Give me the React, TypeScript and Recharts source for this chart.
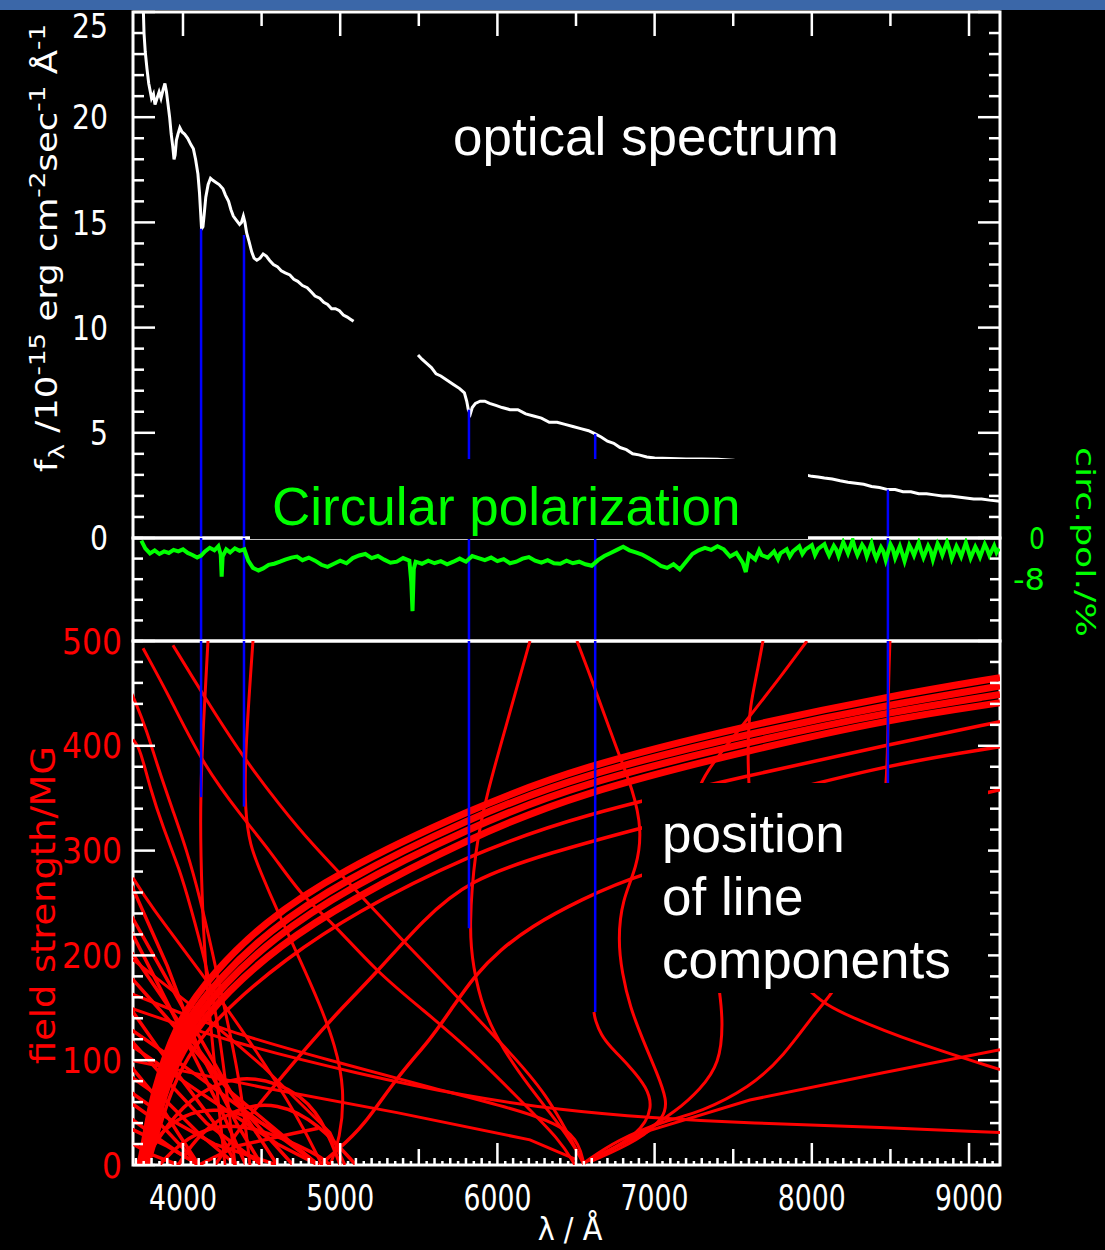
import React from 'react';
import { LineChart, Line, XAxis, YAxis, ReferenceLine, ReferenceArea } from 'recharts';

const W = 1105;
const LAMBDA_MIN = 3682;
const LAMBDA_MAX = 9197;

const WHITE = '#ffffff';
const RED = '#ff0000';
const GREEN = '#00ff00';
const BLUE = '#0000ff';

const TICK_FONT = "'Liberation Sans Narrow', 'DejaVu Sans Condensed', 'Liberation Sans', sans-serif";
const TEXT_FONT = "'Liberation Sans', Arial, sans-serif";

// labelled ticks
const lambdaLabels = [4000, 5000, 6000, 7000, 8000, 9000];
const fluxLabels = [0, 5, 10, 15, 20, 25];
const fieldLabels = [0, 100, 200, 300, 400, 500];
const polLabels = [0, -8];

const steps = (from: number, to: number, step: number) => {
  const out: number[] = [];
  for (let v = from; v <= to + 1e-9; v += step) out.push(Math.round(v * 1000) / 1000);
  return out;
};
const lambdaTicksTop = steps(4000, 9000, 500);
const lambdaTicksBottom = steps(3700, 9150, 50);
const fluxTicks = steps(0, 25, 1);
const fieldTicks = steps(0, 500, 20);
const polTicks = steps(-20, 0, 4);

// f_lambda in 1e-15 erg/cm2/s/A; null = gap between the blue and red arm
const spectrum: [number, number | null][] = [
  [3735, 27.5], [3745, 25.8], [3752, 24.0], [3760, 23.1], [3771, 22.3], [3782, 21.6], [3790, 21.3],
  [3800, 20.9], [3812, 21.1], [3822, 20.6], [3835, 20.9], [3848, 21.2], [3860, 20.9], [3873, 21.3],
  [3885, 21.6], [3895, 21.2], [3905, 20.6], [3915, 20.0], [3925, 19.2], [3935, 18.6], [3943, 18.0],
  [3950, 18.2], [3958, 18.9], [3968, 19.2], [3980, 19.5], [3994, 19.3], [4010, 19.2], [4030, 19.0],
  [4050, 18.7], [4066, 18.5], [4080, 18.0], [4095, 17.3], [4105, 16.4], [4112, 15.5], [4118, 14.7],
  [4127, 14.8], [4135, 15.4], [4145, 16.2], [4160, 16.8], [4175, 17.1], [4190, 17.0], [4210, 16.9],
  [4230, 16.8], [4254, 16.6], [4270, 16.3], [4290, 16.0], [4305, 15.6], [4320, 15.3], [4340, 15.1],
  [4360, 14.9], [4372, 15.0], [4384, 15.3], [4394, 15.0], [4405, 14.5], [4420, 14.1], [4437, 13.6],
  [4452, 13.3], [4470, 13.2], [4490, 13.3], [4510, 13.5], [4530, 13.4], [4550, 13.2], [4575, 13.0],
  [4600, 12.9], [4625, 12.7], [4650, 12.6], [4680, 12.5], [4705, 12.3], [4730, 12.2], [4760, 12.0],
  [4790, 11.9], [4815, 11.7], [4840, 11.5], [4870, 11.4], [4895, 11.2], [4920, 11.1], [4945, 10.9],
  [4970, 10.9], [4995, 10.8], [5020, 10.6], [5045, 10.5], [5065, 10.4], [5085, 10.3],
  [5300, null],
  [5495, 8.7], [5520, 8.5], [5550, 8.3], [5580, 8.1], [5610, 7.8], [5640, 7.7], [5680, 7.5],
  [5720, 7.3], [5760, 7.1], [5790, 6.9], [5805, 6.5], [5815, 6.1], [5828, 5.9], [5840, 6.2],
  [5860, 6.4], [5890, 6.5], [5920, 6.5], [5950, 6.4], [5990, 6.3], [6030, 6.2], [6080, 6.1],
  [6130, 6.1], [6180, 5.9], [6230, 5.8], [6280, 5.7], [6330, 5.5], [6380, 5.5], [6430, 5.4],
  [6480, 5.3], [6530, 5.2], [6580, 5.1], [6622, 4.95], [6660, 4.8], [6700, 4.6], [6740, 4.5],
  [6780, 4.3], [6820, 4.2], [6860, 4.0], [6900, 3.95], [6950, 3.85], [7000, 3.8], [7100, 3.78],
  [7200, 3.76], [7300, 3.75], [7400, 3.74], [7500, 3.7], [7600, 3.6], [7700, 3.45], [7800, 3.3],
  [7900, 3.1], [7960, 3.0], [8000, 2.93], [8040, 2.9], [8080, 2.85], [8130, 2.8], [8180, 2.72],
  [8230, 2.65], [8280, 2.6], [8330, 2.55], [8380, 2.45], [8430, 2.4], [8484, 2.3], [8530, 2.3],
  [8580, 2.2], [8630, 2.2], [8680, 2.1], [8730, 2.1], [8780, 2.05], [8830, 2.0], [8880, 2.0],
  [8930, 1.95], [8980, 1.9], [9030, 1.85], [9080, 1.85], [9130, 1.8], [9197, 1.75],
];

// circular polarization in %
const circPol: [number, number][] = [
  [3735, -0.5], [3760, -2.0], [3790, -3.0], [3820, -2.4], [3850, -3.1], [3880, -2.6], [3910, -2.9],
  [3940, -2.3], [3970, -2.6], [4000, -2.2], [4030, -2.9], [4060, -3.3], [4090, -3.8], [4115, -3.4],
  [4140, -2.6], [4170, -1.9], [4200, -2.4], [4225, -1.6], [4240, -3.2], [4246, -7.5], [4252, -3.6],
  [4275, -2.2], [4300, -2.8], [4330, -2.0], [4360, -2.5], [4390, -2.2], [4415, -4.4], [4445, -5.8],
  [4480, -6.3], [4510, -5.9], [4545, -5.2], [4580, -5.0], [4617, -4.6], [4650, -4.2], [4690, -3.8],
  [4725, -3.6], [4760, -4.3], [4800, -3.8], [4840, -4.4], [4880, -5.2], [4920, -5.6], [4960, -5.0],
  [5000, -4.4], [5040, -4.9], [5080, -3.9], [5120, -3.4], [5160, -3.1], [5200, -3.9], [5240, -3.5],
  [5280, -4.2], [5320, -4.8], [5360, -4.6], [5400, -3.9], [5440, -4.4], [5452, -8.5], [5460, -14.2],
  [5468, -6.0], [5480, -4.6], [5520, -5.0], [5560, -4.4], [5600, -4.9], [5640, -4.5], [5680, -5.1],
  [5720, -4.6], [5760, -4.0], [5800, -4.6], [5840, -3.5], [5880, -3.9], [5920, -4.3], [5960, -3.8],
  [6000, -4.5], [6040, -4.1], [6080, -4.9], [6120, -4.6], [6160, -4.0], [6200, -3.7], [6240, -4.4],
  [6280, -4.8], [6320, -4.3], [6360, -4.9], [6400, -5.0], [6440, -4.4], [6480, -4.9], [6520, -4.6],
  [6560, -5.1], [6600, -5.4], [6640, -4.3], [6680, -3.5], [6720, -2.9], [6760, -2.3], [6800, -1.7],
  [6840, -2.4], [6880, -2.8], [6920, -3.2], [6960, -3.9], [7000, -4.6], [7040, -5.4], [7080, -5.8],
  [7120, -5.1], [7160, -6.1], [7200, -4.6], [7240, -3.1], [7280, -2.4], [7320, -1.9], [7360, -2.3],
  [7400, -1.6], [7440, -2.2], [7480, -3.6], [7520, -2.9], [7560, -4.8], [7580, -6.6], [7600, -3.2],
  [7640, -4.2], [7665, -2.4], [7680, -3.3], [7720, -3.8], [7760, -2.6], [7785, -4.1], [7800, -3.0],
  [7840, -2.2], [7860, -3.6], [7880, -2.6], [7920, -1.6], [7940, -3.1], [7960, -2.2], [8000, -1.4],
  [8020, -3.3], [8040, -2.1], [8080, -1.2], [8095, -2.4], [8110, -3.4], [8140, -1.5], [8155, -2.2],
  [8170, -3.5], [8200, -0.8], [8215, -1.9], [8230, -3.0], [8260, -0.4], [8275, -2.1], [8290, -3.3],
  [8320, -1.3], [8335, -2.0], [8350, -3.6], [8380, -1.0], [8395, -2.8], [8410, -4.0], [8440, -1.8],
  [8455, -2.6], [8470, -4.3], [8500, -1.2], [8515, -2.1], [8530, -3.9], [8560, -1.6], [8575, -3.0],
  [8590, -4.5], [8620, -1.4], [8635, -2.3], [8650, -3.4], [8680, -0.9], [8695, -2.5], [8710, -3.8],
  [8740, -1.5], [8755, -2.4], [8770, -4.2], [8800, -1.1], [8815, -2.0], [8830, -3.3], [8860, -0.8],
  [8875, -2.2], [8890, -4.0], [8920, -1.6], [8935, -2.5], [8950, -3.6], [8980, -0.9], [8995, -2.4],
  [9010, -3.9], [9040, -1.7], [9055, -2.6], [9070, -3.7], [9100, -1.2], [9115, -2.2], [9130, -3.4],
  [9160, -1.5], [9175, -2.8], [9190, -2.0],
];

// identified line components: wavelength, flux at the line, field strength
const componentLambda = [4115, 4388, 5819, 6622, 8484];
const componentFlux = [14.7, 14.4, 6.1, 4.95, 2.3];
const componentField = [351, 342, 226, 146, 364];

// Zeeman component tracks, [wavelength (A), field (MG)]
type Track = [number, number][];

const stationaryTracks: Track[] = [
  [[3726, 0], [3758, 24], [3790, 52], [3854, 91], [3981, 141], [4191, 183], [4509, 231], [4980, 279], [5819, 339], [6525, 380], [7606, 420], [8484, 447], [9197, 465]],
  [[3739, 0], [3777, 29], [3816, 57], [3886, 95], [4013, 136], [4223, 177], [4541, 223], [4999, 270], [5819, 331], [6525, 372], [7606, 412], [8484, 439], [9197, 457]],
  [[3752, 0], [3790, 27], [3835, 55], [3905, 92], [4040, 132], [4250, 171], [4570, 216], [5020, 262], [5819, 322], [6525, 364], [7606, 404], [8484, 432], [9197, 449]],
  [[3765, 0], [3805, 25], [3850, 52], [3925, 88], [4065, 127], [4280, 165], [4600, 208], [5050, 252], [5819, 312], [6525, 355], [7606, 396], [8484, 425], [9197, 441]],
];

const outerTracks: Track[] = [
  [[3780, 0], [3830, 25], [3880, 50], [3960, 84], [4100, 120], [4320, 155], [4640, 195], [5080, 240], [5819, 296], [6525, 334], [7606, 372], [8484, 401], [9197, 423]],
  [[4204, 0], [4363, 36], [4572, 74], [4808, 116], [4980, 145], [5234, 184], [5527, 234], [5819, 272], [6334, 298], [6920, 322], [7606, 348], [8484, 382], [9197, 399]],
  [[4871, 0], [4980, 14], [5145, 36], [5361, 84], [5571, 119], [5717, 151], [5857, 181], [6016, 205], [6207, 227], [6525, 253], [6920, 279], [7606, 305], [8484, 334], [9197, 358]],
];

const blueTracks: Track[] = [
  [[3936, 496], [4127, 449], [4382, 389], [4617, 343], [4808, 308], [5145, 255], [5361, 220], [5717, 165], [5997, 120], [6315, 70], [6551, 0]],
  [[3746, 493], [3917, 446], [4127, 382], [4382, 331], [4553, 300], [4763, 255], [4935, 234], [5234, 184], [5527, 148], [5826, 110], [6144, 62], [6398, 24], [6493, 0]],
  [[4159, 500], [4121, 398], [4108, 328], [4121, 255], [4140, 196], [4172, 138], [4216, 72], [4267, 0]],
  [[4445, 500], [4394, 391], [4394, 338], [4426, 305], [4490, 281], [4598, 243], [4744, 196], [4871, 153], [4967, 115], [5030, 72], [4999, 24], [4935, 0]],
  [[3663, 453], [3695, 443], [3771, 414], [3835, 382], [3936, 338], [4025, 300], [4108, 255], [4184, 205], [4267, 148], [4363, 81], [4426, 0]],
  [[3682, 406], [3726, 398], [3790, 360], [3873, 322], [3981, 281], [4045, 248], [4140, 196], [4235, 129], [4331, 0]],
  [[3682, 274], [3790, 248], [4089, 189], [4426, 119], [4744, 43], [4884, 0]],
  [[3682, 196], [4089, 148], [4509, 94], [4935, 31], [5030, 0]],
];

const redTracks: Track[] = [
  [[6207, 500], [6061, 422], [5934, 355], [5857, 301], [5819, 226], [5845, 189], [5908, 148], [6036, 110], [6207, 74], [6334, 50], [6462, 24], [6551, 2]],
  [[6506, 500], [6608, 460], [6761, 396], [6862, 358], [6920, 320], [6888, 284], [6793, 253], [6767, 215], [6793, 183], [6843, 151], [6926, 119], [7015, 88], [7079, 62], [7066, 46], [6907, 24], [6589, 3]],
  [[6614, 146], [6622, 138], [6660, 124], [6716, 113], [6843, 94], [6951, 74], [6990, 55], [6907, 29], [6589, 4]],
  [[8497, 500], [8484, 444], [8484, 364], [8402, 272], [8243, 196], [8135, 164], [8033, 148], [7817, 103], [7606, 74], [7289, 50], [7079, 43], [6761, 24], [6551, 2]],
  [[7689, 500], [7651, 469], [7606, 437], [7594, 406], [7594, 364], [7639, 301], [7766, 224], [7944, 164], [8243, 141], [8669, 116], [9197, 91]],
  [[7969, 500], [7817, 469], [7651, 437], [7435, 396], [7270, 364], [7225, 320], [7289, 253], [7384, 196], [7415, 164], [7435, 136], [7415, 97], [7289, 72], [7142, 52], [6907, 29], [6589, 5]],
  [[6551, 2], [6971, 33], [7606, 62], [8453, 88], [9197, 110]],
  [[3663, 150], [4299, 117], [5145, 86], [5781, 66], [6417, 52], [6971, 45], [7600, 40], [8453, 36], [9197, 31]],
  [[3663, 164], [4299, 126], [4935, 100], [5571, 74], [6207, 50], [6506, 31], [6551, 0]],
  [[3663, 100], [4509, 74], [5361, 50], [6207, 24], [6506, 5]],
];

const lowFieldTracks: Track[] = [
  [[3663, 270], [3900, 190], [4101, 110], [4340, 40], [4500, 0]],
  [[3663, 240], [4000, 150], [4340, 60], [4600, 0]],
  [[3663, 225], [3850, 170], [4050, 110], [4250, 50], [4400, 0]],
  [[3663, 205], [4050, 120], [4400, 50], [4700, 0]],
  [[3663, 180], [3900, 140], [4300, 70], [4861, 0]],
  [[3663, 150], [3850, 110], [4000, 80], [4200, 40], [4340, 0]],
  [[3663, 130], [4000, 95], [4500, 40], [4861, 0]],
  [[3663, 120], [3900, 80], [4150, 40], [4500, 0]],
  [[3663, 115], [4100, 70], [4600, 20], [4861, 0]],
  [[3663, 95], [3800, 70], [3970, 30], [4101, 0]],
  [[3663, 85], [3900, 60], [4101, 30], [4340, 0]],
  [[3663, 70], [3900, 45], [4200, 20], [4600, 0]],
  [[3663, 60], [3850, 40], [4101, 0]],
  [[3663, 45], [3800, 30], [3970, 12], [4101, 0]],
  [[3663, 35], [3900, 18], [4101, 0]],
  [[3700, 0], [3850, 30], [4000, 48], [4200, 55], [4500, 45], [4861, 0]],
  [[3740, 0], [3900, 40], [4101, 70], [4340, 85], [4600, 80], [4861, 55], [5000, 0]],
  [[3850, 0], [3970, 20], [4200, 40], [4500, 35], [4861, 10], [4935, 0]],
  [[3970, 0], [4100, 30], [4340, 55], [4600, 60], [4861, 40], [5100, 0]],
  [[4101, 0], [4340, 18], [4700, 30], [4861, 35]],
  [[3682, 20], [3800, 10], [3970, 0]],
];

type TickSpec = {
  side: 'left' | 'right' | 'top' | 'bottom';
  len: (v: number) => number;
  label?: (v: number) => string | null;
  color?: string;
  gap?: number;
  charW?: number;
  fontSize?: number;
  minLabelY?: number;
};

// inward tick marks along the frame, with optional labels outside
function edgeTick(spec: TickSpec) {
  return (props: any) => {
    const { x, y, payload } = props;
    const v = payload.value as number;
    const n = spec.len(v);
    let x2 = x;
    let y2 = y;
    if (spec.side === 'left') x2 = x + n;
    if (spec.side === 'right') x2 = x - n;
    if (spec.side === 'top') y2 = y + n;
    if (spec.side === 'bottom') y2 = y - n;
    const text = spec.label ? spec.label(v) : null;
    let label = null;
    if (text) {
      const gap = spec.gap ?? 10;
      const ly = Math.max(y, spec.minLabelY ?? -Infinity);
      const common = {
        fill: spec.color ?? WHITE,
        fontSize: spec.fontSize ?? 34,
        fontFamily: TICK_FONT,
        textLength: (spec.charW ?? 17) * text.length,
        lengthAdjust: 'spacingAndGlyphs' as const,
      };
      if (spec.side === 'left') {
        label = <text x={x - gap} y={ly} dy="0.36em" textAnchor="end" {...common}>{text}</text>;
      } else if (spec.side === 'right') {
        label = <text x={x + gap} y={ly} dy="0.36em" textAnchor="end" {...common}>{text}</text>;
      } else {
        label = <text x={x} y={y + gap} textAnchor="middle" {...common}>{text}</text>;
      }
    }
    return (
      <g>
        <line x1={x} y1={y} x2={x2} y2={y2} stroke={WHITE} strokeWidth={2.5} />
        {label}
      </g>
    );
  };
}

// axes are 1px wide so that recharts still renders them; ticks are drawn by edgeTick
const axisBase = {
  type: 'number' as const,
  allowDataOverflow: true,
  interval: 0 as const,
  tickSize: 0,
  tickMargin: 0,
  tickLine: false,
  axisLine: false,
};

const toPoints = (track: Track) => track.map(([l, b]) => ({ l, b }));

function trackLines(tracks: Track[], width: number, prefix: string) {
  return tracks.map((t, i) => (
    <Line
      key={prefix + i}
      xAxisId="x"
      yAxisId="b"
      data={toPoints(t)}
      dataKey="b"
      type={t.length >= 6 ? 'basis' : 'linear'}
      stroke={RED}
      strokeWidth={width}
      dot={false}
      activeDot={false}
      isAnimationActive={false}
    />
  ));
}

function SpectrumPanel() {
  const data = spectrum.map(([l, f]) => ({ l, f }));
  return (
    <LineChart width={W} height={560} margin={{ top: 11, right: 104, bottom: 22, left: 132 }}>
      <XAxis
        {...axisBase}
        xAxisId="x"
        dataKey="l"
        domain={[LAMBDA_MIN, LAMBDA_MAX]}
        orientation="top"
        height={1}
        ticks={lambdaTicksTop}
        tick={edgeTick({ side: 'top', len: (v) => (v % 1000 === 0 ? 24 : 14) })}
      />
      <YAxis
        {...axisBase}
        yAxisId="f"
        domain={[0, 25]}
        width={1}
        ticks={fluxTicks}
        tick={edgeTick({
          side: 'left',
          len: (v) => (v % 5 === 0 ? 22 : 11),
          label: (v) => (fluxLabels.includes(v) ? String(v) : null),
          gap: 25,
          charW: 18,
          fontSize: 34,
          minLabelY: 26,
        })}
      />
      <YAxis
        {...axisBase}
        yAxisId="fr"
        orientation="right"
        domain={[0, 25]}
        width={1}
        ticks={fluxTicks}
        tick={edgeTick({ side: 'right', len: (v) => (v % 5 === 0 ? 22 : 11) })}
      />
      <ReferenceArea xAxisId="x" yAxisId="f" x1={LAMBDA_MIN} x2={LAMBDA_MAX} y1={0} y2={25}
        fill="none" fillOpacity={0} stroke={WHITE} strokeWidth={3} ifOverflow="visible" />
      <Line xAxisId="x" yAxisId="f" data={data} dataKey="f" type="linear" stroke={WHITE}
        strokeWidth={3} dot={false} activeDot={false} connectNulls={false} isAnimationActive={false} />
      {componentLambda.map((l, i) => (
        <ReferenceLine key={l} xAxisId="x" yAxisId="f" ifOverflow="visible"
          segment={[{ x: l, y: componentFlux[i] }, { x: l, y: 0 }]} stroke={BLUE} strokeWidth={2.5} />
      ))}
    </LineChart>
  );
}

function PolarizationPanel() {
  const data = circPol.map(([l, p]) => ({ l, p }));
  return (
    <LineChart width={W} height={140} margin={{ top: 18, right: 104, bottom: 19, left: 132 }}>
      <XAxis {...axisBase} xAxisId="x" dataKey="l" domain={[LAMBDA_MIN, LAMBDA_MAX]} hide />
      <YAxis
        {...axisBase}
        yAxisId="p"
        domain={[-20, 0]}
        width={1}
        ticks={polTicks}
        tick={edgeTick({ side: 'left', len: () => 10 })}
      />
      <YAxis
        {...axisBase}
        yAxisId="pr"
        orientation="right"
        domain={[-20, 0]}
        width={1}
        ticks={polTicks}
        tick={edgeTick({
          side: 'right',
          len: () => 10,
          label: (v) => (polLabels.includes(v) ? String(v) : null),
          color: GREEN,
          gap: 45,
          charW: 16,
          fontSize: 30,
        })}
      />
      <ReferenceArea xAxisId="x" yAxisId="p" x1={LAMBDA_MIN} x2={LAMBDA_MAX} y1={-20} y2={0}
        fill="none" fillOpacity={0} stroke={WHITE} strokeWidth={3} ifOverflow="visible" />
      {componentLambda.map((l) => (
        <ReferenceLine key={l} xAxisId="x" yAxisId="p" ifOverflow="visible"
          segment={[{ x: l, y: 0 }, { x: l, y: -20 }]} stroke={BLUE} strokeWidth={2.5} />
      ))}
      <Line xAxisId="x" yAxisId="p" data={data} dataKey="p" type="linear" stroke={GREEN}
        strokeWidth={4} dot={false} activeDot={false} isAnimationActive={false} />
    </LineChart>
  );
}

function FieldPanel() {
  return (
    <LineChart width={W} height={620} margin={{ top: 21, right: 104, bottom: 74, left: 132 }}>
      <XAxis
        {...axisBase}
        xAxisId="x"
        dataKey="l"
        domain={[LAMBDA_MIN, LAMBDA_MAX]}
        orientation="bottom"
        height={1}
        ticks={lambdaTicksBottom}
        tick={edgeTick({
          side: 'bottom',
          len: (v) => (v % 1000 === 0 ? 22 : v % 500 === 0 ? 16 : v % 100 === 0 ? 7 : 4),
          label: (v) => (lambdaLabels.includes(v) ? String(v) : null),
          gap: 45,
          charW: 17,
          fontSize: 36,
        })}
      />
      <YAxis
        {...axisBase}
        yAxisId="b"
        domain={[0, 500]}
        width={1}
        ticks={fieldTicks}
        tick={edgeTick({
          side: 'left',
          len: (v) => (v % 100 === 0 ? 22 : 10),
          label: (v) => (fieldLabels.includes(v) ? String(v) : null),
          color: RED,
          gap: 11,
          charW: 20,
          fontSize: 35,
        })}
      />
      <YAxis
        {...axisBase}
        yAxisId="br"
        orientation="right"
        domain={[0, 500]}
        width={1}
        ticks={fieldTicks}
        tick={edgeTick({ side: 'right', len: (v) => (v % 100 === 0 ? 22 : 10) })}
      />
      <ReferenceArea xAxisId="x" yAxisId="b" x1={LAMBDA_MIN} x2={LAMBDA_MAX} y1={0} y2={500}
        fill="none" fillOpacity={0} stroke={WHITE} strokeWidth={3} ifOverflow="visible" />
      {trackLines(lowFieldTracks, 3.5, 'low')}
      {trackLines(blueTracks, 3, 'blue')}
      {trackLines(redTracks, 3, 'red')}
      {trackLines(outerTracks, 3.5, 'outer')}
      {trackLines(stationaryTracks, 7, 'stat')}
      {componentLambda.map((l, i) => (
        <ReferenceLine key={l} xAxisId="x" yAxisId="b" ifOverflow="visible"
          segment={[{ x: l, y: 500 }, { x: l, y: componentField[i] }]} stroke={BLUE} strokeWidth={2.5} />
      ))}
    </LineChart>
  );
}

function Annotations() {
  const sup = 22;
  return (
    <svg width={W} height={1250} style={{ position: 'absolute', left: 0, top: 0, pointerEvents: 'none' }}>
      <rect x={0} y={0} width={W} height={10} fill="#3b67a8" />
      <text x={453} y={155} fill={WHITE} fontSize={53} fontFamily={TEXT_FONT}>optical spectrum</text>

      <rect x={250} y={459} width={558} height={80} fill="#000" />
      <text x={272} y={525} fill={GREEN} fontSize={53} fontFamily={TEXT_FONT}>Circular polarization</text>

      <rect x={642} y={783} width={346} height={210} fill="#000" />
      <text fill={WHITE} fontSize={53} fontFamily={TEXT_FONT}>
        <tspan x={662} y={852}>position</tspan>
        <tspan x={662} y={915}>of line</tspan>
        <tspan x={662} y={978}>components</tspan>
      </text>

      <text transform="translate(57 472) rotate(-90)" fill={WHITE} fontSize={30} fontFamily={TICK_FONT}
        textLength={448} lengthAdjust="spacingAndGlyphs">
        f<tspan dy={7} fontSize={sup}>λ</tspan>
        <tspan dy={-7}> /10</tspan>
        <tspan dy={-12} fontSize={sup}>-15</tspan>
        <tspan dy={12}> erg cm</tspan>
        <tspan dy={-12} fontSize={sup}>-2</tspan>
        <tspan dy={12}>sec</tspan>
        <tspan dy={-12} fontSize={sup}>-1</tspan>
        <tspan dy={12}> Å</tspan>
        <tspan dy={-12} fontSize={sup}>-1</tspan>
      </text>

      <text transform="translate(55 1064) rotate(-90)" fill={RED} fontSize={34} fontFamily={TICK_FONT}
        textLength={318} lengthAdjust="spacingAndGlyphs">field strength/MG</text>

      <text transform="translate(1076 447) rotate(90)" fill={GREEN} fontSize={27} fontFamily={TICK_FONT}
        textLength={190} lengthAdjust="spacingAndGlyphs">circ.pol./%</text>

      <text x={570} y={1240} textAnchor="middle" fill={WHITE} fontSize={32} fontFamily={TICK_FONT}>λ / Å</text>
    </svg>
  );
}

export default function App() {
  return (
    <div style={{ position: 'absolute', left: 0, top: 0, width: W, height: 1250, background: '#000', overflow: 'hidden' }}>
      <div style={{ position: 'absolute', left: 0, top: 0 }}>
        <SpectrumPanel />
      </div>
      <div style={{ position: 'absolute', left: 0, top: 520 }}>
        <PolarizationPanel />
      </div>
      <div style={{ position: 'absolute', left: 0, top: 620 }}>
        <FieldPanel />
      </div>
      <Annotations />
    </div>
  );
}
